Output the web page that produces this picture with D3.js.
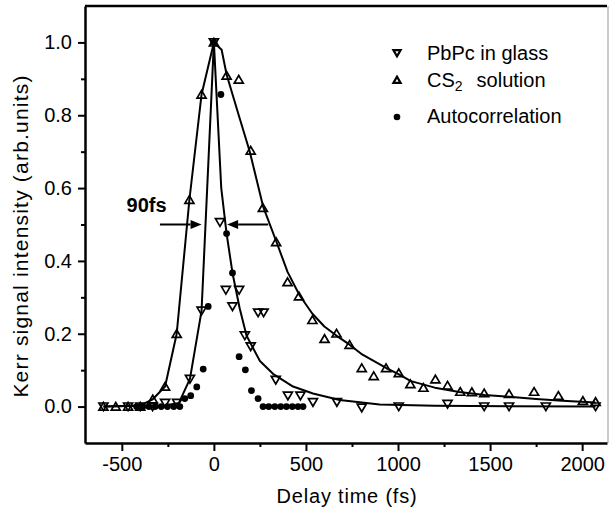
<!DOCTYPE html>
<html>
<head>
<meta charset="utf-8">
<script src="https://cdn.jsdelivr.net/npm/d3@7"></script>
<style>
  body { margin: 0; background: #fff; }
  svg { display: block; font-family: "Liberation Sans", Arial, sans-serif; }
  .axis path, .axis line { stroke: #000; }
</style>
</head>
<body>
<div id="chart"></div>
<script>
// measured points, [delay fs, signal]
var pbpc = [[-600,0],[-466,0],[-400,0],[-333,0],[-265,0.01],[-200,0.01],[-130,0.076],[-67,0.263],
    [0,1.0],[33,0.506],[65,0.32],[101,0.275],[137,0.32],[168,0.195],[200,0.165],[240,0.258],
    [270,0.258],[336,0.073],[402,0.03],[470,0.03],[538,0.012],[668,0.012],[803,-0.003],
    [1004,0],[1269,0.007],[1468,0],[1603,0],[1803,0],[2073,0]];

var cs2 = [[-600,0],[-533,0],[-466,0],[-400,0],[-332,0.02],[-265,0.055],[-202,0.2],[-133,0.568],
    [-67,0.857],[0,1.0],[69,0.909],[135,0.898],[200,0.703],[266,0.546],[338,0.452],[400,0.342],
    [462,0.303],[535,0.238],[601,0.186],[666,0.201],[737,0.17],[803,0.106],[868,0.084],
    [935,0.106],[1004,0.092],[1067,0.062],[1138,0.052],[1203,0.075],[1269,0.058],[1338,0.041],
    [1401,0.04],[1468,0.037],[1603,0.035],[1739,0.041],[1871,0.03],[2004,0.016],[2073,0.013]];

var autocorr = [[-420,0],[-386,0],[-353,0],[-319,0],[-286,0],[-252,0],[-218,0],[-185,0],
    [-158,0.022],[-126,0.03],[-93,0.054],[-58,0.103],[-31,0.275],[0,1.0],[38,0.857],
    [69,0.475],[101,0.367],[137,0.137],[171,0.101],[204,0.044],[240,0.022],[267,0],[298,0],
    [331,0],[363,0],[394,0],[426,0],[457,0],[484,0]];

// fitted curves
var pbpcFit = [[-600,0],[-265,0.003],[-190,0.01],[-130,0.076],[-67,0.263],[0,1.0],[40,0.6],
    [69,0.475],[101,0.367],[140,0.27],[177,0.195],[250,0.125],[321,0.09],[430,0.055],
    [538,0.036],[683,0.018],[900,0.006],[1200,0.002],[2073,0]];

var cs2Fit = [[-600,0],[-400,0.003],[-332,0.02],[-265,0.055],[-202,0.2],[-133,0.568],[-67,0.857],
    [0,1.0],[42,0.98],[69,0.912],[135,0.80],[195,0.70],[267,0.55],[340,0.452],[400,0.37],
    [466,0.305],[535,0.255],[600,0.22],[665,0.195],[737,0.17],[800,0.145],[870,0.125],
    [935,0.106],[1000,0.09],[1070,0.07],[1200,0.052],[1333,0.04],[1470,0.032],[1603,0.027],
    [1750,0.021],[1892,0.016],[2073,0.011]];

var xTicks = [-500, 0, 500, 1000, 1500, 2000];
var xMinor = [-250, 250, 750, 1250, 1750];
var yTicks = [0, 0.2, 0.4, 0.6, 0.8, 1.0];
var yMinor = [0.1, 0.3, 0.5, 0.7, 0.9];

// FWHM arrows: [tail, tip] at half height
var fwhmLevel = 0.5;
var arrowLeft = [-293, -67],
    arrowRight = [295, 72];

var width = 610, height = 512;
var margin = {top: 6, left: 85, right: 3, bottom: 69};

var svg = d3.select("#chart").append("svg")
    .attr("width", width)
    .attr("height", height);

var x = d3.scaleLinear().domain([-700, 2135]).range([margin.left, width - margin.right]);
var y = d3.scaleLinear().domain([-0.1, 1.1]).range([height - margin.bottom, margin.top]);

// frame top + right
svg.append("line")
    .attr("x1", margin.left).attr("x2", width - margin.right)
    .attr("y1", margin.top).attr("y2", margin.top)
    .attr("stroke", "#000").attr("stroke-width", 2.5);
svg.append("line")
    .attr("x1", width - 2).attr("x2", width - 2)
    .attr("y1", margin.top).attr("y2", height - margin.bottom)
    .attr("stroke", "#bbb").attr("stroke-width", 1.5);

// axes (plain hyphen minus like the original)
var xAxis = svg.append("g")
    .attr("class", "axis")
    .attr("transform", "translate(0," + (height - margin.bottom) + ")")
    .call(d3.axisBottom(x).tickValues(xTicks).tickSize(8).tickPadding(6).tickSizeOuter(0)
        .tickFormat(function(d) { return String(d); }));
svg.append("g")
    .attr("class", "axis")
    .attr("transform", "translate(0," + (height - margin.bottom) + ")")
    .call(d3.axisBottom(x).tickValues(xMinor).tickSize(4).tickFormat("").tickSizeOuter(0))
    .select(".domain").remove();

var yAxis = svg.append("g")
    .attr("class", "axis")
    .attr("transform", "translate(" + margin.left + ",0)")
    .call(d3.axisLeft(y).tickValues(yTicks).tickSize(7).tickPadding(6)
        .tickFormat(function(d) { return d.toFixed(1); }).tickSizeOuter(0));
svg.append("g")
    .attr("class", "axis")
    .attr("transform", "translate(" + margin.left + ",0)")
    .call(d3.axisLeft(y).tickValues(yMinor).tickSize(4).tickFormat("").tickSizeOuter(0))
    .select(".domain").remove();

svg.selectAll(".axis .domain").attr("stroke-width", 2.5);
svg.selectAll(".axis .tick line").attr("stroke-width", 2);
svg.selectAll(".axis text")
    .attr("font-size", "20px")
    .attr("font-family", "Liberation Sans, Arial, sans-serif")
    .attr("fill", "#000");

// axis titles
svg.append("text")
    .attr("x", 347).attr("y", 503)
    .attr("text-anchor", "middle")
    .attr("font-size", "20px")
    .attr("letter-spacing", "0.8px")
    .text("Delay time (fs)");

svg.append("text")
    .attr("transform", "translate(28,236) rotate(-90)")
    .attr("text-anchor", "middle")
    .attr("font-size", "21px")
    .attr("letter-spacing", "1.2px")
    .text("Kerr signal intensity (arb.units)");

// fitted curves
var line = d3.line()
    .x(function(d) { return x(d[0]); })
    .y(function(d) { return y(d[1]); })
    .curve(d3.curveLinear);

[pbpcFit, cs2Fit].forEach(function(fit) {
    svg.append("path")
        .datum(fit)
        .attr("d", line)
        .attr("fill", "none")
        .attr("stroke", "#000")
        .attr("stroke-width", 2)
        .attr("stroke-linejoin", "round");
});

// markers
function downTri(cx, cy, s) {
    return "M" + (cx - s) + "," + (cy - s * 0.8) + "L" + (cx + s) + "," + (cy - s * 0.8) +
           "L" + cx + "," + (cy + s * 0.9) + "Z";
}
function upTri(cx, cy, s) {
    return "M" + (cx - s) + "," + (cy + s * 0.8) + "L" + (cx + s) + "," + (cy + s * 0.8) +
           "L" + cx + "," + (cy - s * 0.9) + "Z";
}

svg.append("g").selectAll("path")
    .data(cs2).enter().append("path")
    .attr("d", function(d) { return upTri(x(d[0]), y(d[1]), 4.5); })
    .attr("fill", "none")
    .attr("stroke", "#000")
    .attr("stroke-width", 1.7);

svg.append("g").selectAll("path")
    .data(pbpc).enter().append("path")
    .attr("d", function(d) { return downTri(x(d[0]), y(d[1]), 4.5); })
    .attr("fill", "none")
    .attr("stroke", "#000")
    .attr("stroke-width", 1.7);

svg.append("g").selectAll("circle")
    .data(autocorr).enter().append("circle")
    .attr("cx", function(d) { return x(d[0]); })
    .attr("cy", function(d) { return y(d[1]); })
    .attr("r", 3.4)
    .attr("fill", "#000");

// FWHM arrows
function drawArrow(a) {
    var x0 = x(a[0]), x1 = x(a[1]), yy = y(fwhmLevel);
    var dir = x1 > x0 ? 1 : -1;
    var headLen = 11, headW = 4.5;
    svg.append("line")
        .attr("x1", x0).attr("x2", x1 - dir * headLen)
        .attr("y1", yy).attr("y2", yy)
        .attr("stroke", "#000").attr("stroke-width", 2);
    svg.append("path")
        .attr("d", "M" + x1 + "," + yy + "L" + (x1 - dir * headLen) + "," + (yy - headW) +
                   "L" + (x1 - dir * headLen) + "," + (yy + headW) + "Z")
        .attr("fill", "#000");
}
drawArrow(arrowLeft);
drawArrow(arrowRight);

svg.append("text")
    .attr("x", x(-474)).attr("y", y(0.535))
    .attr("font-size", "20px")
    .attr("font-weight", "bold")
    .text("90fs");

// legend
var legend = svg.append("g").attr("transform", "translate(397,0)");
legend.append("path").attr("d", downTri(0, 53, 3.6))
    .attr("fill", "none").attr("stroke", "#000").attr("stroke-width", 2.2);
legend.append("path").attr("d", upTri(0, 80, 3.6))
    .attr("fill", "none").attr("stroke", "#000").attr("stroke-width", 2.2);
legend.append("circle").attr("cx", 0).attr("cy", 117).attr("r", 3.3).attr("fill", "#000");

legend.append("text").attr("x", 30).attr("y", 60).attr("font-size", "20px")
    .text("PbPc in glass");
var cs2Label = legend.append("text").attr("x", 30).attr("y", 87).attr("font-size", "20px");
cs2Label.append("tspan").text("CS");
cs2Label.append("tspan").attr("font-size", "14px").attr("dy", 4).text("2");
cs2Label.append("tspan").attr("dy", -4).attr("dx", 14).text("solution");
legend.append("text").attr("x", 30).attr("y", 123).attr("font-size", "20px")
    .text("Autocorrelation");
</script>
</body>
</html>
